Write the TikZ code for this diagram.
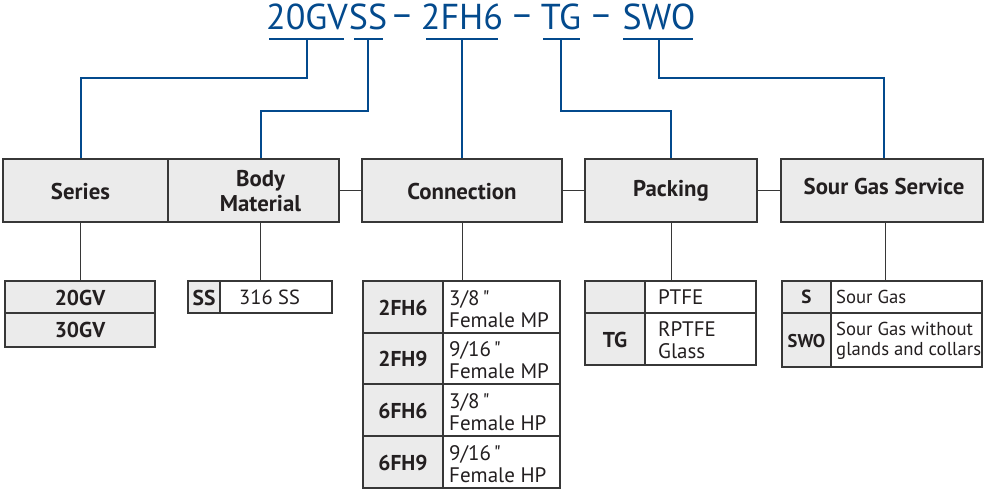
\documentclass[tikz,border=0pt]{standalone}
\usepackage{fontspec}
\setmainfont{PT Sans}
\newfontfamily\plainq{PT Sans}[Ligatures=TeXOff]
\definecolor{bluec}{RGB}{3,74,141}
\definecolor{cellgray}{RGB}{235,235,235}
\definecolor{linegray}{RGB}{55,55,55}
\definecolor{txt}{RGB}{35,31,32}
\newcommand\hdrfont{\fontsize{22.8}{24.5}\selectfont\bfseries}
\newcommand\codefont{\fontsize{21.5}{23}\selectfont\bfseries}
\newcommand\descfont{\fontsize{21}{22}\selectfont}
\newcommand\sdescfont{\fontsize{18.7}{20}\selectfont}
\newcommand\titlefont{\fontsize{36}{40}\selectfont}
\newcommand\dq{\hspace{3pt}{\plainq\symbol{34}}}
\tikzset{
 boxl/.style={draw=linegray, line width=1.3pt},
 hdrbox/.style={boxl, fill=cellgray, inner sep=0, minimum height=63pt},
 hdrtxt/.style={font=\hdrfont, text=txt, align=center, inner sep=0},
 gcell/.style={boxl, fill=cellgray, inner sep=0},
 wcell/.style={boxl, fill=white, inner sep=0},
 codetxt/.style={font=\codefont, text=txt, inner sep=0},
 desctxt/.style={font=\descfont, text=txt, align=left, inner sep=0, anchor=west},
 title/.style={font=\titlefont, text=bluec, inner sep=0, anchor=base},
 tdash/.style={font=\fontsize{36}{40}\selectfont, text=bluec, inner sep=0, anchor=base},
 blueline/.style={draw=bluec, line width=2pt},
 uline/.style={draw=bluec, line width=1.6pt},
 conn/.style={draw=linegray, line width=1pt},
}
\begin{document}
\begin{tikzpicture}[x=1pt,y=-1pt]
\useasboundingbox[fill=white] (0,0) rectangle (984,489);
% title
\node[title] (t20) at (307,30) {20GV};
\node[title] (tss) at (368,30) {SS};
\node[tdash] (d1) at (402,27) {–};
\node[title] (t2fh6) at (462,30) {2FH6};
\node[tdash] (d2) at (522,27) {–};
\node[title] (ttg) at (561,30) {TG};
\node[tdash] (d3) at (601,27) {–};
\node[title] (tswo) at (659,30) {SWO};
\coordinate (u20) at (307,39);
\coordinate (uss) at (368,39);
\coordinate (u2fh6) at (462,39);
\coordinate (utg) at (561,39);
\coordinate (uswo) at (659,39);
\draw[uline] ([xshift=-38]u20) -- ([xshift=37]u20);
\draw[uline] ([xshift=-14]uss) -- ([xshift=15]uss);
\draw[uline] ([xshift=-36]u2fh6) -- ([xshift=36]u2fh6);
\draw[uline] ([xshift=-18]utg) -- ([xshift=19]utg);
\draw[uline] ([xshift=-36]uswo) -- ([xshift=34]uswo);
% header boxes
\node[hdrbox, minimum width=165pt] (seriesbox) at (85.5,190.5) {};
\node[hdrbox, minimum width=171pt] (bodybox) at (253.5,190.5) {};
\node[hdrbox, minimum width=200pt] (connbox) at (462,190.5) {};
\node[hdrbox, minimum width=172pt] (packbox) at (671,190.5) {};
\node[hdrbox, minimum width=202pt] (sourbox) at (882,190.5) {};
\node[hdrtxt] (series) at (80.5,192) {Series};
\node[hdrtxt] (body) at (260.5,191) {Body\\Material};
\node[hdrtxt] (conn) at (462,192) {Connection};
\node[hdrtxt] (pack) at (671,191) {Packing};
\node[hdrtxt] (sour) at (884,187) {Sour Gas Service};
% blue connectors
\draw[blueline] (u20) -- ++(0,39) -| (seriesbox.north -| series);
\draw[blueline] (uss) -- ++(0,72) -| (bodybox.north -| body);
\draw[blueline] (u2fh6) -- (connbox.north);
\draw[blueline] (utg) -- ++(0,72) -| (packbox.north);
\draw[blueline] (uswo) -- ++(0,39) -| (sourbox.north -| sour);
% horizontal connectors
\draw[conn] (bodybox.east) -- (connbox.west);
\draw[conn] (connbox.east) -- (packbox.west);
\draw[conn] (packbox.east) -- (sourbox.west);
% series table
\node[gcell, minimum width=150pt, minimum height=32pt] (s20) at (80,297) {};
\node[gcell, minimum width=150pt, minimum height=34pt] (s30) at (80,330) {};
\node[codetxt] (s20t) at (80,297.5) {20GV};
\node[codetxt] (s30t) at (80,330) {30GV};
% body table
\node[gcell, minimum width=32pt, minimum height=32pt] (bss) at (204,297) {};
\node[wcell, minimum width=112pt, minimum height=32pt] (b316) at (276,297) {};
\node[codetxt] (bsst) at (204,297.5) {SS};
\node[desctxt, font=\fontsize{20.5}{22}\selectfont] (b316t) at (239,297.5) {316 SS};
\coordinate (btop) at (260,281);
% connection table
\node[gcell, minimum width=80pt, minimum height=52pt] (c1) at (403,307) {};
\node[wcell, minimum width=117pt, minimum height=52pt] (c1d) at (501.5,307) {};
\node[gcell, minimum width=80pt, minimum height=51pt] (c2) at (403,358.5) {};
\node[wcell, minimum width=117pt, minimum height=51pt] (c2d) at (501.5,358.5) {};
\node[gcell, minimum width=80pt, minimum height=52pt] (c3) at (403,410) {};
\node[wcell, minimum width=117pt, minimum height=52pt] (c3d) at (501.5,410) {};
\node[gcell, minimum width=80pt, minimum height=52pt] (c4) at (403,462) {};
\node[wcell, minimum width=117pt, minimum height=52pt] (c4d) at (501.5,462) {};
\node[codetxt] (c1t) at (403,307.5) {2FH6};
\node[codetxt] (c2t) at (403,359) {2FH9};
\node[codetxt] (c3t) at (403,410.5) {6FH6};
\node[codetxt] (c4t) at (403,462.5) {6FH9};
\node[desctxt] (c1dt) at (449,309) {3/8\dq\\Female MP};
\node[desctxt] (c2dt) at (449,360.5) {9/16\dq\\Female MP};
\node[desctxt] (c3dt) at (449,412) {3/8\dq\\Female HP};
\node[desctxt] (c4dt) at (449,464) {9/16\dq\\Female HP};
\coordinate (ctop) at (462,281);
% packing table
\node[gcell, minimum width=60pt, minimum height=32pt] (p1) at (615,297) {};
\node[wcell, minimum width=111pt, minimum height=32pt] (p1d) at (700.5,297) {};
\node[gcell, minimum width=60pt, minimum height=52pt] (p2) at (615,339) {};
\node[wcell, minimum width=111pt, minimum height=52pt] (p2d) at (700.5,339) {};
\node[codetxt] (p2t) at (615,339.5) {TG};
\node[desctxt] (p1dt) at (658,297.5) {PTFE};
\node[desctxt] (p2dt) at (658,340) {RPTFE\\Glass};
\coordinate (ptop) at (671,281);
% sour gas table
\node[gcell, minimum width=49pt, minimum height=32pt] (g1) at (806.5,297) {};
\node[wcell, minimum width=151pt, minimum height=32pt] (g1d) at (906.5,297) {};
\node[gcell, minimum width=49pt, minimum height=54pt] (g2) at (806.5,340) {};
\node[wcell, minimum width=151pt, minimum height=54pt] (g2d) at (906.5,340) {};
\node[codetxt, font=\fontsize{19}{21}\selectfont\bfseries] (g1t) at (806.5,297) {S};
\node[codetxt, font=\fontsize{18.5}{20}\selectfont\bfseries] (g2t) at (806.5,341) {SWO};
\node[desctxt, font=\sdescfont] (g1dt) at (836,296.5) {Sour Gas};
\node[desctxt, font=\sdescfont] (g2dt) at (836,341) {Sour Gas without\\glands and collars};
\coordinate (gtop) at (885,281);
% vertical connectors to tables
\draw[conn] (seriesbox.south -| s20) -- (s20.north);
\draw[conn] (bodybox.south -| btop) -- (btop);
\draw[conn] (connbox.south -| ctop) -- (ctop);
\draw[conn] (packbox.south -| ptop) -- (ptop);
\draw[conn] (sourbox.south -| gtop) -- (gtop);
\end{tikzpicture}
\end{document}
